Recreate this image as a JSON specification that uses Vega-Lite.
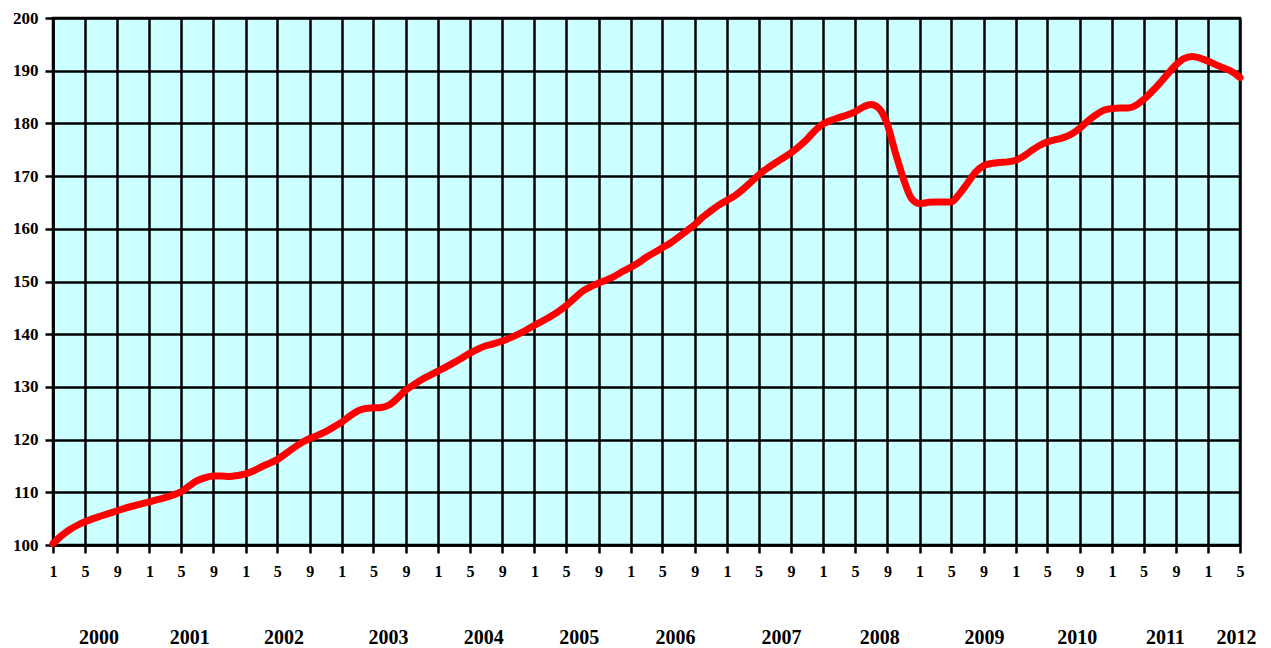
{
  "$schema": "https://vega.github.io/schema/vega-lite/v6.json",
  "width": 1187,
  "height": 527,
  "autosize": "none",
  "padding": {"left": 53, "top": 18, "right": 31, "bottom": 103},
  "background": "white",
  "config": {
    "view": {"fill": "#CCFFFF", "stroke": "black", "strokeWidth": 2.5},
    "axis": {
      "labelFont": "Liberation Serif",
      "labelFontWeight": "bold",
      "labelColor": "black",
      "tickColor": "black",
      "domainColor": "black",
      "gridColor": "black",
      "gridOpacity": 1
    }
  },
  "data": {
    "values": [
      {"date": "2000/01/01", "value": 100.3}, {"date": "2000/02/01", "value": 101.7}, {"date": "2000/03/01", "value": 102.8}, {"date": "2000/04/01", "value": 103.7},
      {"date": "2000/05/01", "value": 104.4}, {"date": "2000/06/01", "value": 105.0}, {"date": "2000/07/01", "value": 105.5}, {"date": "2000/08/01", "value": 106.0},
      {"date": "2000/09/01", "value": 106.5}, {"date": "2000/10/01", "value": 107.0}, {"date": "2000/11/01", "value": 107.4}, {"date": "2000/12/01", "value": 107.8},
      {"date": "2001/01/01", "value": 108.2}, {"date": "2001/02/01", "value": 108.6}, {"date": "2001/03/01", "value": 109.0}, {"date": "2001/04/01", "value": 109.5},
      {"date": "2001/05/01", "value": 110.1}, {"date": "2001/06/01", "value": 111.2}, {"date": "2001/07/01", "value": 112.2}, {"date": "2001/08/01", "value": 112.8},
      {"date": "2001/09/01", "value": 113.1}, {"date": "2001/10/01", "value": 113.1}, {"date": "2001/11/01", "value": 113.0}, {"date": "2001/12/01", "value": 113.2},
      {"date": "2002/01/01", "value": 113.5}, {"date": "2002/02/01", "value": 114.1}, {"date": "2002/03/01", "value": 114.8}, {"date": "2002/04/01", "value": 115.5},
      {"date": "2002/05/01", "value": 116.2}, {"date": "2002/06/01", "value": 117.3}, {"date": "2002/07/01", "value": 118.4}, {"date": "2002/08/01", "value": 119.4},
      {"date": "2002/09/01", "value": 120.2}, {"date": "2002/10/01", "value": 120.8}, {"date": "2002/11/01", "value": 121.5}, {"date": "2002/12/01", "value": 122.4},
      {"date": "2003/01/01", "value": 123.3}, {"date": "2003/02/01", "value": 124.5}, {"date": "2003/03/01", "value": 125.4}, {"date": "2003/04/01", "value": 125.9},
      {"date": "2003/05/01", "value": 126.0}, {"date": "2003/06/01", "value": 126.1}, {"date": "2003/07/01", "value": 126.6}, {"date": "2003/08/01", "value": 127.9},
      {"date": "2003/09/01", "value": 129.4}, {"date": "2003/10/01", "value": 130.4}, {"date": "2003/11/01", "value": 131.4}, {"date": "2003/12/01", "value": 132.2},
      {"date": "2004/01/01", "value": 133.0}, {"date": "2004/02/01", "value": 133.8}, {"date": "2004/03/01", "value": 134.6}, {"date": "2004/04/01", "value": 135.5},
      {"date": "2004/05/01", "value": 136.4}, {"date": "2004/06/01", "value": 137.2}, {"date": "2004/07/01", "value": 137.8}, {"date": "2004/08/01", "value": 138.2},
      {"date": "2004/09/01", "value": 138.7}, {"date": "2004/10/01", "value": 139.3}, {"date": "2004/11/01", "value": 140.0}, {"date": "2004/12/01", "value": 140.8},
      {"date": "2005/01/01", "value": 141.7}, {"date": "2005/02/01", "value": 142.5}, {"date": "2005/03/01", "value": 143.3}, {"date": "2005/04/01", "value": 144.3},
      {"date": "2005/05/01", "value": 145.4}, {"date": "2005/06/01", "value": 146.8}, {"date": "2005/07/01", "value": 148.1}, {"date": "2005/08/01", "value": 149.0},
      {"date": "2005/09/01", "value": 149.7}, {"date": "2005/10/01", "value": 150.3}, {"date": "2005/11/01", "value": 151.0}, {"date": "2005/12/01", "value": 151.9},
      {"date": "2006/01/01", "value": 152.7}, {"date": "2006/02/01", "value": 153.6}, {"date": "2006/03/01", "value": 154.6}, {"date": "2006/04/01", "value": 155.5},
      {"date": "2006/05/01", "value": 156.4}, {"date": "2006/06/01", "value": 157.3}, {"date": "2006/07/01", "value": 158.4}, {"date": "2006/08/01", "value": 159.6},
      {"date": "2006/09/01", "value": 160.8}, {"date": "2006/10/01", "value": 162.2}, {"date": "2006/11/01", "value": 163.4}, {"date": "2006/12/01", "value": 164.5},
      {"date": "2007/01/01", "value": 165.4}, {"date": "2007/02/01", "value": 166.3}, {"date": "2007/03/01", "value": 167.4}, {"date": "2007/04/01", "value": 168.8},
      {"date": "2007/05/01", "value": 170.2}, {"date": "2007/06/01", "value": 171.4}, {"date": "2007/07/01", "value": 172.4}, {"date": "2007/08/01", "value": 173.4},
      {"date": "2007/09/01", "value": 174.4}, {"date": "2007/10/01", "value": 175.6}, {"date": "2007/11/01", "value": 177.0}, {"date": "2007/12/01", "value": 178.6},
      {"date": "2008/01/01", "value": 179.9}, {"date": "2008/02/01", "value": 180.6}, {"date": "2008/03/01", "value": 181.1}, {"date": "2008/04/01", "value": 181.6},
      {"date": "2008/05/01", "value": 182.2}, {"date": "2008/06/01", "value": 183.1}, {"date": "2008/07/01", "value": 183.6}, {"date": "2008/08/01", "value": 182.8},
      {"date": "2008/09/01", "value": 179.8}, {"date": "2008/10/01", "value": 174.5}, {"date": "2008/11/01", "value": 169.5}, {"date": "2008/12/01", "value": 165.8},
      {"date": "2009/01/01", "value": 164.8}, {"date": "2009/02/01", "value": 165.0}, {"date": "2009/03/01", "value": 165.1}, {"date": "2009/04/01", "value": 165.1},
      {"date": "2009/05/01", "value": 165.1}, {"date": "2009/06/01", "value": 166.6}, {"date": "2009/07/01", "value": 168.6}, {"date": "2009/08/01", "value": 170.7},
      {"date": "2009/09/01", "value": 172.0}, {"date": "2009/10/01", "value": 172.4}, {"date": "2009/11/01", "value": 172.6}, {"date": "2009/12/01", "value": 172.7},
      {"date": "2010/01/01", "value": 173.0}, {"date": "2010/02/01", "value": 173.8}, {"date": "2010/03/01", "value": 174.8}, {"date": "2010/04/01", "value": 175.8},
      {"date": "2010/05/01", "value": 176.5}, {"date": "2010/06/01", "value": 176.9}, {"date": "2010/07/01", "value": 177.3}, {"date": "2010/08/01", "value": 178.0},
      {"date": "2010/09/01", "value": 179.1}, {"date": "2010/10/01", "value": 180.4}, {"date": "2010/11/01", "value": 181.6}, {"date": "2010/12/01", "value": 182.5},
      {"date": "2011/01/01", "value": 182.8}, {"date": "2011/02/01", "value": 182.9}, {"date": "2011/03/01", "value": 182.9}, {"date": "2011/04/01", "value": 183.4},
      {"date": "2011/05/01", "value": 184.5}, {"date": "2011/06/01", "value": 186.0}, {"date": "2011/07/01", "value": 187.6}, {"date": "2011/08/01", "value": 189.4},
      {"date": "2011/09/01", "value": 191.1}, {"date": "2011/10/01", "value": 192.3}, {"date": "2011/11/01", "value": 192.7}, {"date": "2011/12/01", "value": 192.4},
      {"date": "2012/01/01", "value": 191.8}, {"date": "2012/02/01", "value": 191.1}, {"date": "2012/03/01", "value": 190.5}, {"date": "2012/04/01", "value": 189.8},
      {"date": "2012/05/01", "value": 188.7}
    ]
  },
  "encoding": {
    "y": {
      "field": "value",
      "type": "quantitative",
      "scale": {"domain": [100, 200], "nice": false, "zero": false},
      "axis": {
        "values": [100, 110, 120, 130, 140, 150, 160, 170, 180, 190, 200],
        "grid": true,
        "gridWidth": 2.5,
        "tickSize": 8,
        "tickWidth": 2.5,
        "domainWidth": 2.5,
        "labelPadding": 7,
        "labelFontSize": 17,
        "title": null
      }
    }
  },
  "layer": [
    {
      "mark": {"type": "line", "strokeOpacity": 0},
      "encoding": {
        "x": {
          "field": "date",
          "type": "temporal",
          "scale": {"nice": false, "domain": [{"year": 2000, "month": 1, "date": 1}, {"year": 2012, "month": 5, "date": 1}]},
          "axis": {
            "orient": "bottom",
            "values": [
              {"year": 2000, "month": 6, "date": 22},
              {"year": 2001, "month": 6, "date": 1},
              {"year": 2002, "month": 5, "date": 25},
              {"year": 2003, "month": 6, "date": 25},
              {"year": 2004, "month": 6, "date": 21},
              {"year": 2005, "month": 6, "date": 18},
              {"year": 2006, "month": 6, "date": 18},
              {"year": 2007, "month": 7, "date": 25},
              {"year": 2008, "month": 8, "date": 1},
              {"year": 2009, "month": 9, "date": 3},
              {"year": 2010, "month": 8, "date": 21},
              {"year": 2011, "month": 7, "date": 21},
              {"year": 2012, "month": 4, "date": 16}
            ],
            "format": "%Y",
            "ticks": false,
            "tickSize": 0,
            "domain": false,
            "grid": false,
            "labelPadding": 82,
            "labelFontSize": 20,
            "labelFlush": false,
            "labelOverlap": false,
            "labelBound": false,
            "title": null
          }
        }
      }
    },
    {
      "mark": {"type": "line", "color": "#FF0000", "strokeWidth": 7, "interpolate": "monotone", "strokeCap": "round", "strokeJoin": "round"},
      "encoding": {
        "x": {
          "field": "date",
          "type": "temporal",
          "scale": {"nice": false, "domain": [{"year": 2000, "month": 1, "date": 1}, {"year": 2012, "month": 5, "date": 1}]},
          "axis": {
            "orient": "bottom",
            "tickCount": {"interval": "month", "step": 4},
            "format": "%-m",
            "grid": true,
            "gridWidth": 2.5,
            "tickSize": 8,
            "tickWidth": 2.5,
            "domainWidth": 2.5,
            "labelPadding": 10,
            "labelFontSize": 16,
            "labelFlush": false,
            "labelOverlap": false,
            "labelBound": false,
            "title": null
          }
        }
      }
    }
  ],
  "resolve": {"axis": {"x": "independent"}}
}
